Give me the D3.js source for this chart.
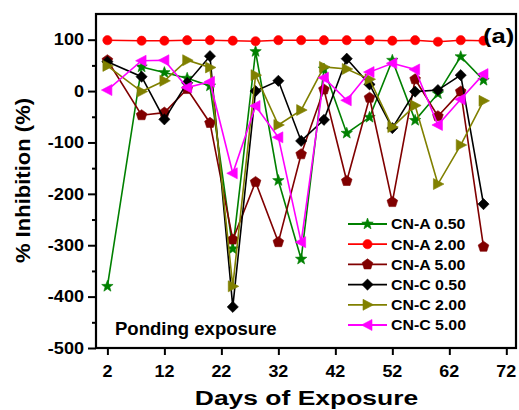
<!DOCTYPE html>
<html><head><meta charset="utf-8">
<script src="https://cdn.jsdelivr.net/npm/d3@7"></script>
<style>body{margin:0;background:#fff}svg{display:block}text{font-family:"Liberation Sans",Arial,sans-serif;font-weight:bold;fill:#000}</style>
</head><body>
<script>
const days = [2, 8, 12, 16, 20, 24, 28, 32, 36, 40, 44, 48, 52, 56, 60, 64, 68];
const cnA050 = [-380, 47, 36, 25, 10, -307, 77, -174, -327, 43, -82, -51, 60, -57, -5, 67, 21];
const cnA200 = [99, 98, 98, 99, 99, 98, 97, 99, 99, 99, 99, 99, 98, 99, 96, 99, 98];
const cnA500 = [60, -47, -42, 4, -62, -289, -177, -294, -123, 3, -175, -13, -216, 23, -49, -1, -303];
const cnC050 = [57, 28, -55, 16, 68, -420, 0, 20, -97, -56, 63, 13, -72, -1, 2, 31, -220];
const cnC200 = [49, -1, 20, 60, 46, -380, 31, -66, -37, 47, 43, 23, -70, -28, -181, -105, -19];
const cnC500 = [2, 59, 60, 7, 18, -160, -29, -90, -294, 26, -18, 37, 54, 42, -66, -16, 33];
const seriesNames = ["CN-A 0.50", "CN-A 2.00", "CN-A 5.00", "CN-C 0.50", "CN-C 2.00", "CN-C 5.00"];
const xTicks = [2, 12, 22, 32, 42, 52, 62, 72];
const yTicks = [-500, -400, -300, -200, -100, 0, 100];
const yMinor = [-450, -350, -250, -150, -50, 50];

const series = [
  {name: seriesNames[0], values: cnA050, color: "#008000", shape: "star"},
  {name: seriesNames[1], values: cnA200, color: "#ff0000", shape: "circle"},
  {name: seriesNames[2], values: cnA500, color: "#800000", shape: "pentagon"},
  {name: seriesNames[3], values: cnC050, color: "#000000", shape: "diamond"},
  {name: seriesNames[4], values: cnC200, color: "#808000", shape: "triRight"},
  {name: seriesNames[5], values: cnC500, color: "#ff00ff", shape: "triLeft"}
];

const W = 519, H = 410;
const L = 96, R = 516, T = 14, B = 348;
const svg = d3.select("body").append("svg").attr("width", W).attr("height", H);

const x = d3.scaleLinear().domain([0, 73.7]).range([L, R]);
const y = d3.scaleLinear().domain([-500, 150]).range([B, T]);

function txt(px, py, s, size, sx, anchor, rot) {
  const g = svg.append("g").attr("transform", `translate(${px},${py})` + (rot ? ` rotate(${rot})` : "") + ` scale(${sx},1)`);
  g.append("text").attr("text-anchor", anchor || "start").style("font-size", size + "px").text(s);
  return g;
}

function shapePath(shape) {
  const p = d3.path();
  if (shape === "circle") { p.arc(0, 0, 4.6, 0, 2 * Math.PI); }
  else if (shape === "star") {
    for (let i = 0; i < 10; i++) {
      const r = i % 2 === 0 ? 6 : 2.5;
      const a = -Math.PI / 2 + i * Math.PI / 5;
      if (i === 0) p.moveTo(r * Math.cos(a), r * Math.sin(a)); else p.lineTo(r * Math.cos(a), r * Math.sin(a));
    }
    p.closePath();
  } else if (shape === "pentagon") {
    for (let i = 0; i < 5; i++) {
      const a = -Math.PI / 2 + i * 2 * Math.PI / 5;
      const r = 5.6;
      if (i === 0) p.moveTo(r * Math.cos(a), r * Math.sin(a)); else p.lineTo(r * Math.cos(a), r * Math.sin(a));
    }
    p.closePath();
  } else if (shape === "diamond") {
    p.moveTo(0, -5.6); p.lineTo(5.6, 0); p.lineTo(0, 5.6); p.lineTo(-5.6, 0); p.closePath();
  } else if (shape === "triRight") {
    p.moveTo(6, 0); p.lineTo(-4.5, -5.5); p.lineTo(-4.5, 5.5); p.closePath();
  } else if (shape === "triLeft") {
    p.moveTo(-6, 0); p.lineTo(4.5, -5.5); p.lineTo(4.5, 5.5); p.closePath();
  }
  return p.toString();
}

// axes
const yAxis = d3.axisLeft(y).tickValues(yTicks).tickSize(8).tickFormat("");
const yAxisMinor = d3.axisLeft(y).tickValues(yMinor).tickSize(4).tickFormat("");
const xAxis = d3.axisBottom(x).tickValues(xTicks).tickSize(7).tickFormat("");
[[yAxis, `translate(${L},0)`], [yAxisMinor, `translate(${L},0)`], [xAxis, `translate(0,${B})`]].forEach(([ax, tr]) => {
  const g = svg.append("g").attr("transform", tr).call(ax);
  g.select(".domain").remove();
  g.selectAll("line").attr("stroke", "#000").attr("stroke-width", 2);
});
yTicks.forEach(v => txt(84, y(v) + 5.8, String(v), 16, 1.13, "end"));
xTicks.forEach(v => txt(x(v), 377, String(v), 16, 1.12, "middle"));

// lines and markers
const line = d3.line().x((d, i) => x(days[i])).y(d => y(d));
series.forEach(s => {
  svg.append("path").datum(s.values).attr("d", line).attr("fill", "none").attr("stroke", s.color).attr("stroke-width", 1.6);
  svg.append("g").selectAll("path").data(s.values).join("path")
    .attr("transform", (d, i) => `translate(${x(days[i])},${y(d)})`)
    .attr("d", shapePath(s.shape)).attr("fill", s.color).attr("stroke", s.color).attr("stroke-width", 0.6);
});

// frame
svg.append("rect").attr("x", L).attr("y", T).attr("width", R - L).attr("height", B - T)
  .attr("fill", "none").attr("stroke", "#000").attr("stroke-width", 2.2);

// legend
const legY0 = 224, legDy = 20.2;
series.forEach((s, i) => {
  const yy = legY0 + i * legDy;
  svg.append("line").attr("x1", 348).attr("x2", 387).attr("y1", yy).attr("y2", yy).attr("stroke", s.color).attr("stroke-width", 1.8);
  svg.append("path").attr("transform", `translate(367.5,${yy})`).attr("d", shapePath(s.shape)).attr("fill", s.color).attr("stroke", s.color).attr("stroke-width", 0.6);
  txt(391, yy + 5.4, s.name, 15, 1.06, "start");
});

// annotations
txt(115, 335, "Ponding exposure", 18, 1.03, "start");
txt(483, 43, "(a)", 20, 1.28, "start");
txt(306.5, 405, "Days of Exposure", 21, 1.26, "middle");
txt(30, 180.5, "% Inhibition (%)", 21, 1.05, "middle", -90);
</script>
</body></html>
